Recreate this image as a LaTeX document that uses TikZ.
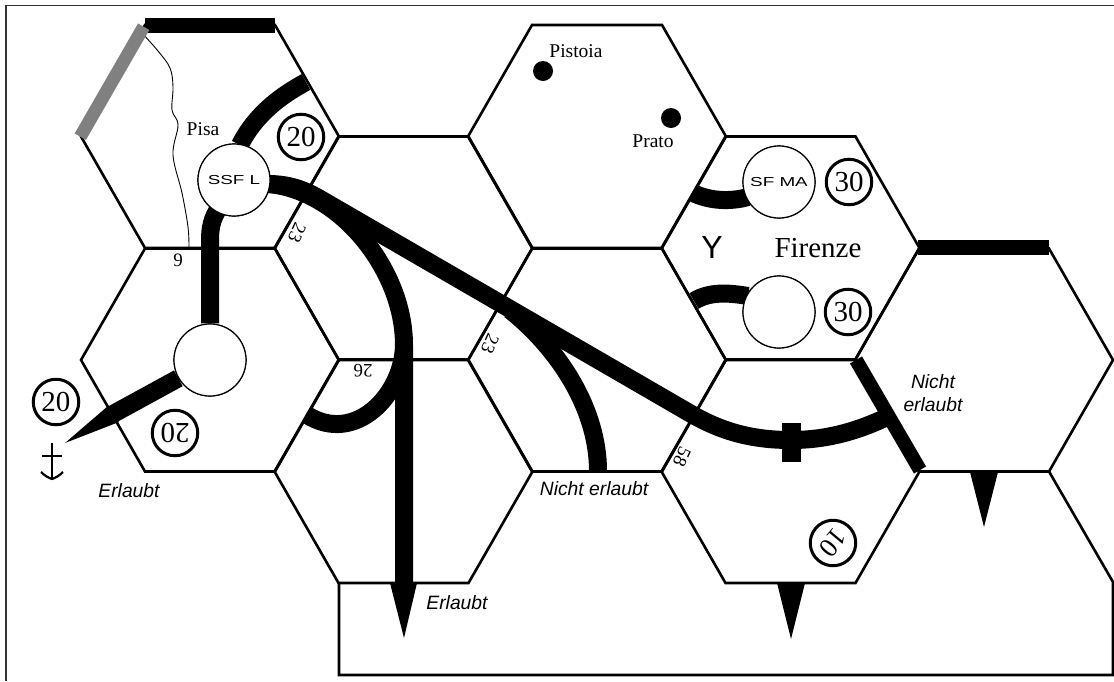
\documentclass[tikz,border=0pt]{standalone}
\usepackage{fontspec}
\setmainfont{Liberation Serif}
\setsansfont{Liberation Sans}
\newcommand{\fsz}[1]{\fontsize{#1}{#1}\selectfont}
\tikzset{
  x=1pt,y=-1pt,
  hexedge/.style={draw=black,line width=2.6pt,line join=miter},
  rail/.style={draw=black,line width=18pt},
  barline/.style={draw=black,line width=14pt},
  station/.style={circle,draw=black,fill=white,line width=1.2pt,minimum size=72pt,inner sep=0pt},
  value/.style={circle,draw=black,fill=white,line width=3pt,minimum size=45.5pt,inner sep=0pt,font=\fsz{29}},
  serifl/.style={inner sep=0pt,font=\fsz{19.5}},
  small/.style={inner sep=0pt,font=\fsz{19}},
  permit/.style={inner sep=0pt,font=\sffamily\itshape\fsz{19.3}},
  dot/.style={circle,fill=black,minimum size=20pt,inner sep=0pt},
  wedge/.style={fill=black,draw=none}
}
\newcommand{\hexat}[2]{%
  \draw[hexedge] (#1-65,#2-111.5) -- (#1+65,#2-111.5) -- (#1+129,#2) -- (#1+65,#2+111.5) -- (#1-65,#2+111.5) -- (#1-129,#2) -- cycle;}
\begin{document}
\begin{tikzpicture}
\useasboundingbox (0,0) rectangle (1114,681);
\fill[white] (0,0) rectangle (1114,681);
% frame
\draw[line width=1.4pt,black!80] (6,681) -- (6,5.5) -- (1114,5.5);
% hexes
\hexat{210}{136.5}
\hexat{210}{360}
\hexat{403.5}{248}
\hexat{403.5}{471.5}
\hexat{597}{136.5}
\hexat{597}{360}
\hexat{790.5}{248}
\hexat{790.5}{471.5}
\hexat{984}{360}
\draw[hexedge] (339,583) -- (339,675) -- (1113,675) -- (1113,582) -- (1049,471.5);
% river
\draw[line width=0.9pt] plot[smooth,tension=0.6] coordinates {(142,33) (158,51) (170,68) (173,87) (172,110) (178,125) (173,155) (182,193) (188,227) (189,248)};
% thick edges
\draw[line width=15pt,black] (145,25.5) -- (275,25.5);
\draw[line width=15pt,black] (918,247.5) -- (1049,247.5);
\draw[line width=13pt,black!50] (80.3,136.7) -- (143.7,26.7);
\draw[barline] (856,360) -- (920,470);
% stations
\node[station] (ssfl) at (234,180) {};
\node[station] (lowl) at (210,360) {};
\node[station] (sfma) at (779,182) {};
\node[station] (lowr) at (779,312) {};
\coordinate (pisaedge) at (306,82);
\coordinate (tip) at (65,443);
\coordinate (junct) at (322,200);
\coordinate (kink) at (693,415);
\coordinate (crossm) at (791,440);
\coordinate (barhit) at (885,418);
\coordinate (vmid) at (404,345);
\coordinate (varr) at (404,583);
\coordinate (branchend) at (598,471);
\coordinate (hexl) at (307,415);
% rails
\draw[rail] (240,145) .. controls (255,115) and (280,96) .. (pisaedge);
\draw[rail] (lowl.north) -- (210,240) .. controls (210,228) and (212,218) .. (219,208);
\draw[rail] (268,184) .. controls (290,184) and (305,190) .. (junct) -- (kink) .. controls (725,433) and (755,440) .. (crossm) .. controls (825,440) and (855,432) .. (barhit);
\draw[rail] (268,184) .. controls (340,190) and (404,270) .. (vmid) -- (varr);
\draw[rail] (vmid) .. controls (403,395) and (355,445) .. (hexl);
\draw[rail] (branchend) .. controls (598,410) and (560,350) .. (510,310);
\draw[rail] (748,197) .. controls (730,202) and (710,201) .. (693,193);
\draw[rail] (748,296) .. controls (730,293) and (710,291) .. (694,301);
\draw[rail] (lowl.-150) -- (113,414);
% wedges
\fill[wedge] (108,406) -- (119,422) -- (tip) -- cycle;
\fill[wedge] (390,583) -- (417,583) -- (404,638) -- cycle;
\fill[wedge] (777,583) -- (805,583) -- (791,639) -- cycle;
\fill[wedge] (970,472) -- (998,472) -- (984,527) -- cycle;
% crossbar on rail
\fill[black] (782,423) rectangle (801,462);
% redraw stations on top
\node[station] at (ssfl) {\sffamily\fsz{13}\scalebox{1.45}[1]{SSF L}};
\node[station] at (lowl) {};
\node[station] at (sfma) {\sffamily\fsz{13}\scalebox{1.45}[1]{SF MA}};
\node[station] at (lowr) {};
% values
\node[value] (v1) at (301,137) {20};
\node[value] (v2) at (56,402) {20};
\node[value,rotate=180] (v3) at (175,433) {20};
\node[value] (v4) at (849,182) {30};
\node[value] (v5) at (848,312) {30};
\node[value,rotate=230,font=\fsz{27}] (v6) at (833,543) {10};
% anchor
\draw[line width=2.2pt] (52,443) -- (52,478);
\draw[line width=2.2pt] (42,456) -- (62,456);
\draw[line width=2.2pt] (41,472) .. controls (45,476) and (49,478) .. (52,479) .. controls (55,478) and (59,476) .. (63,472);
% towns
\node[dot] (pistoiadot) at (543,71) {};
\node[dot] (pratodot) at (671,118) {};
\node[serifl] (pisa) at (203,129) {Pisa};
\node[serifl] (pistoia) at (576,51) {Pistoia};
\node[serifl] (prato) at (653,141) {Prato};
\node[inner sep=0pt,font=\fsz{29}] (firenze) at (818,248) {Firenze};
\node[inner sep=0pt,font=\sffamily\fsz{32}] (y) at (712,247) {Y};
% small numbers
\node[small] (n9) at (178,260) {9};
\node[small,rotate=245] (n23a) at (297,233) {23};
\node[small,rotate=245] (n23b) at (490,344) {23};
\node[small,rotate=180] (n26) at (363,371) {26};
\node[small,rotate=245] (n58) at (682,457) {58};
% permissions
\node[permit] (e1) at (129,491) {Erlaubt};
\node[permit] (e2) at (457,603) {Erlaubt};
\node[permit] (ne1) at (594,489) {Nicht erlaubt};
\node[permit] (ne2) at (933,382) {Nicht};
\node[permit] (ne3) at (933,405) {erlaubt};
\end{tikzpicture}
\end{document}
